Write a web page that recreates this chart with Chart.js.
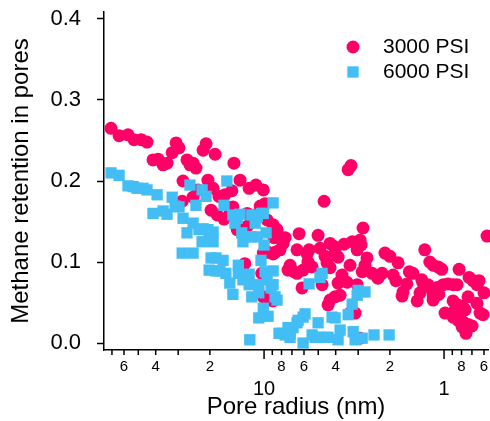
<!DOCTYPE html>
<html>
<head>
<meta charset="utf-8">
<script src="https://cdn.jsdelivr.net/npm/chart.js@4"></script>
<style>
  html, body { margin: 0; padding: 0; background: #fff; }
  #wrap { width: 490px; height: 421px; }
</style>
</head>
<body>
<div id="wrap"><canvas id="poreChart"></canvas></div>
<script>
// ==========================
// Data
// ==========================

// 3000 PSI (circles): pore radius in nm, methane retention
const radius3000 = [
    70.8, 63.9, 57.0, 52.8, 48.2, 44.7, 41.4, 38.8, 36.4, 34.6, 30.8, 29.7, 32.4,
    26.8, 25.8, 24.8, 23.9, 28.2, 28.5, 24.8, 23.3, 21.8, 21.0, 18.7, 14.7,
    20.5, 19.2, 17.8, 16.5, 15.1, 13.6, 12.1, 11.1, 10.1, 19.7, 18.2, 16.7, 15.5, 14.9,
    12.4, 11.7, 10.9, 10.5, 9.87, 9.62, 14.1, 12.9, 12.4, 8.91, 8.47, 8.80,
    10.1, 9.50, 8.91, 12.8, 10.3, 9.75, 10.1, 9.62, 8.91, 7.94, 7.84, 8.69, 8.15, 7.36,
    3.41, 3.29, 4.64, 6.39, 5.01, 2.82, 7.64, 6.56, 5.62, 5.77, 4.89, 4.30, 4.08, 4.03,
    3.59, 3.24, 2.93, 2.89, 3.04, 2.68, 2.13, 4.58, 3.88, 7.17, 6.81, 5.70, 6.07,
    4.47, 4.30, 3.33, 2.75, 2.85, 2.51, 2.33, 3.69, 3.88, 3.46, 4.76, 6.15, 3.04,
    4.03, 4.30, 4.41, 3.78, 3.33, 3.12, 2.93, 5.41, 6.56,
    0.577, 1.28, 2.00, 1.80, 1.20, 1.15, 1.08, 1.03, 0.825, 2.21, 1.92, 1.85,
    1.56, 1.49, 1.61, 1.33, 1.31, 1.23, 1.18, 1.08, 1.01, 0.95, 0.891, 0.847,
    1.09, 1.15, 0.726, 0.690, 0.639, 0.656, 0.600, 1.69, 1.71, 1.36, 1.41, 1.15, 1.07, 0.736,
    0.891, 0.858, 0.815, 0.784, 0.656, 0.987, 0.869, 0.815, 0.764,
    0.891, 0.836, 0.784, 0.736, 0.699, 0.631, 0.607, 0.794, 0.755
];
const retention3000 = [
    0.265, 0.256, 0.257, 0.251, 0.251, 0.248, 0.226, 0.227, 0.220, 0.222, 0.247, 0.241, 0.235,
    0.226, 0.220, 0.222, 0.216, 0.200, 0.175, 0.180, 0.189, 0.238, 0.246, 0.233, 0.222,
    0.201, 0.191, 0.181, 0.183, 0.188, 0.201, 0.191, 0.195, 0.189, 0.164, 0.158, 0.153, 0.160, 0.168,
    0.160, 0.154, 0.159, 0.169, 0.172, 0.152, 0.140, 0.137, 0.144, 0.146, 0.140, 0.130,
    0.111, 0.112, 0.110, 0.098, 0.086, 0.085, 0.057, 0.053, 0.052, 0.130, 0.123, 0.112, 0.115, 0.090,
    0.214, 0.219, 0.175, 0.135, 0.133, 0.142, 0.130, 0.115, 0.115, 0.110, 0.117, 0.123, 0.119, 0.112,
    0.122, 0.125, 0.127, 0.121, 0.115, 0.105, 0.111, 0.107, 0.106, 0.096, 0.088, 0.100, 0.090,
    0.099, 0.093, 0.096, 0.096, 0.088, 0.086, 0.080, 0.084, 0.074, 0.075, 0.072, 0.068, 0.072,
    0.057, 0.053, 0.047, 0.059, 0.037, 0.037, 0.006, 0.094, 0.086,
    0.132, 0.115, 0.107, 0.099, 0.100, 0.096, 0.094, 0.091, 0.091, 0.086, 0.084, 0.077,
    0.088, 0.086, 0.073, 0.078, 0.074, 0.072, 0.067, 0.069, 0.072, 0.073, 0.072, 0.072,
    0.063, 0.059, 0.081, 0.077, 0.077, 0.072, 0.062, 0.063, 0.058, 0.062, 0.052, 0.053, 0.060, 0.057,
    0.052, 0.048, 0.046, 0.044, 0.049, 0.037, 0.041, 0.037, 0.041,
    0.032, 0.028, 0.026, 0.023, 0.021, 0.037, 0.035, 0.020, 0.012
];

// 6000 PSI (squares)
const radius6000 = [
    70.8, 63.9, 57.0, 53.4, 50.8, 47.0, 44.7, 39.3, 41.4, 36.4, 34.6, 32.4, 31.2, 29.7,
    28.2, 26.8, 24.8, 28.5, 24.8, 25.8, 23.9, 22.1, 21.0, 23.0, 21.8, 20.5, 19.2,
    22.1, 20.2, 19.2, 19.7, 18.5, 16.9, 20.2, 18.5, 17.6, 16.3, 15.5, 14.9,
    13.9, 13.9, 13.1, 12.1, 16.1, 16.7, 14.9, 14.1, 13.6, 14.5, 13.3, 12.8, 11.8, 10.9, 13.1,
    11.7, 10.9, 10.3, 11.2, 10.0, 9.75, 8.91, 10.1, 10.4, 12.1, 11.7, 10.7, 10.7,
    9.87, 9.62, 9.14, 8.91, 8.91, 10.1, 9.50, 10.7, 12.0, 8.26, 8.69, 8.47,
    7.94, 7.64, 7.36, 7.17, 4.76, 4.89, 5.62, 3.00, 2.75, 3.04, 3.24, 3.41, 4.19, 4.03,
    5.92, 6.07, 6.47, 6.56, 6.90, 7.17, 5.01, 5.41, 5.21, 4.89, 4.58, 4.41, 6.07,
    3.78, 3.88, 3.20, 3.12, 2.85, 2.45, 2.02
];
const retention6000 = [
    0.210, 0.207, 0.194, 0.193, 0.191, 0.191, 0.189, 0.183, 0.160, 0.163, 0.159, 0.180, 0.169, 0.168,
    0.154, 0.136, 0.148, 0.111, 0.111, 0.195, 0.170, 0.189, 0.181, 0.140, 0.141, 0.140, 0.137,
    0.125, 0.128, 0.125, 0.105, 0.105, 0.102, 0.090, 0.089, 0.089, 0.086, 0.074, 0.060,
    0.096, 0.086, 0.078, 0.085, 0.200, 0.170, 0.158, 0.154, 0.159, 0.148, 0.136, 0.131, 0.131, 0.131, 0.125,
    0.158, 0.156, 0.160, 0.148, 0.121, 0.136, 0.173, 0.160, 0.102, 0.072, 0.057, 0.072, 0.062,
    0.088, 0.078, 0.068, 0.072, 0.089, 0.043, 0.033, 0.031, 0.004, 0.012, 0.057, 0.053,
    0.012, 0.010, 0.019, 0.007, 0.086, 0.081, 0.073, 0.065, 0.063, 0.059, 0.048, 0.035, 0.032, 0.031,
    0.036, 0.032, 0.028, 0.025, 0.019, 0.012, 0.025, 0.010, 0.007, 0.007, 0.007, 0.007, 0.000,
    0.016, 0.004, 0.014, 0.004, 0.006, 0.010, 0.010
];

// x axis ticks (log, reversed) and their labels; majors get a second line
const xTickValues = [0.6, 0.7, 0.8, 0.9, 1, 2, 3, 4, 5, 6, 7, 8, 9, 10, 20, 30, 40, 50, 60, 70];
const xTickLabels = ["6", "", "8", "", ["", "1"], "2", "", "4", "", "6", "", "8", "",
                     ["", "10"], "2", "", "4", "", "6", ""];

const seriesNames = ["3000 PSI", "6000 PSI"];

const RED = "rgb(255,0,102)";
const BLUE = "rgb(66,190,245)";
const FONT = "'Liberation Sans', Arial, Helvetica, sans-serif";


// ==========================
// Extra drawing: x tick marks of two lengths + legend
// ==========================

const extras = {
    id: "extras",
    afterDraw(chart) {
        const ctx = chart.ctx;
        const xs = chart.scales.x;
        const area = chart.chartArea;

        ctx.save();
        ctx.strokeStyle = "#000";
        ctx.lineWidth = 1.5;
        xs.ticks.forEach((t, i) => {
            const px = xs.getPixelForValue(t.value);
            const len = Array.isArray(xTickLabels[i]) ? 9 : 5;
            ctx.beginPath();
            ctx.moveTo(px, area.bottom);
            ctx.lineTo(px, area.bottom + len);
            ctx.stroke();
        });

        // legend, top right inside the plot
        const lx = area.right - 135;
        let ly = area.top + 35;
        chart.data.datasets.forEach((ds) => {
            ctx.fillStyle = ds.backgroundColor;
            Chart.helpers.drawPoint(ctx, {
                pointStyle: ds.pointStyle,
                radius: ds.pointRadius,
                rotation: 0,
                borderWidth: 0
            }, lx, ly);
            ctx.fillStyle = "#000";
            ctx.font = "21px " + FONT;
            ctx.textBaseline = "middle";
            ctx.textAlign = "left";
            ctx.fillText(ds.label, lx + 30, ly);
            ly += 25;
        });
        ctx.restore();
    }
};


// ==========================
// Chart
// ==========================

const ctx = document.getElementById("poreChart");

const poreChart = new Chart(ctx, {

    type: "scatter",

    data: {
        datasets: [{
            label: seriesNames[0],
            data: radius3000.map((r, i) => ({ x: r, y: retention3000[i] })),
            pointStyle: "circle",
            pointRadius: 6.5,
            pointHoverRadius: 6.5,
            backgroundColor: RED,
            borderWidth: 0,
            clip: false,
            order: 1
        }, {
            label: seriesNames[1],
            data: radius6000.map((r, i) => ({ x: r, y: retention6000[i] })),
            pointStyle: "rect",
            pointRadius: 8,
            pointHoverRadius: 8,
            backgroundColor: BLUE,
            borderWidth: 0,
            clip: false,
            order: 0
        }]
    },

    options: {
        responsive: true,
        maintainAspectRatio: false,
        animation: false,
        layout: {
            autoPadding: false,
            padding: { top: 12, right: 2, left: 0, bottom: 0 }
        },
        plugins: {
            legend: { display: false },
            tooltip: { enabled: false }
        },
        scales: {
            x: {
                type: "logarithmic",
                position: "bottom",
                reverse: true,
                min: 0.57,
                max: 77.5,
                afterBuildTicks: (axis) => {
                    axis.ticks = xTickValues.map((v, i) => ({
                        value: v,
                        major: Array.isArray(xTickLabels[i])
                    }));
                },
                afterFit: (axis) => {
                    axis.height = 71;
                    axis.paddingLeft = 0;
                    axis.paddingRight = 0;
                },
                grid: { display: false, drawTicks: false },
                border: { display: true, color: "#000", width: 1.5 },
                ticks: {
                    autoSkip: false,
                    maxRotation: 0,
                    padding: 9,
                    color: "#000",
                    callback: (value, index) => xTickLabels[index],
                    font: (c) => Array.isArray(xTickLabels[c.index])
                        ? { family: FONT, size: 20, lineHeight: 1 }
                        : { family: FONT, size: 15, lineHeight: 1.1 }
                },
                title: {
                    display: true,
                    text: "Pore radius (nm)",
                    color: "#000",
                    font: { family: FONT, size: 24, lineHeight: 1.1 },
                    padding: { top: 0, bottom: 0 }
                }
            },
            y: {
                min: -0.0086,
                max: 0.4086,
                afterFit: (axis) => {
                    axis.width = 104;
                    axis.paddingTop = 0;
                    axis.paddingBottom = 0;
                },
                grid: {
                    drawOnChartArea: false,
                    drawTicks: true,
                    tickLength: 7,
                    tickColor: "#000",
                    tickWidth: 1.5
                },
                border: { display: true, color: "#000", width: 1.5 },
                ticks: {
                    stepSize: 0.1,
                    includeBounds: false,
                    padding: 16,
                    color: "#000",
                    font: { family: FONT, size: 22 },
                    callback: (v) => v.toFixed(1)
                },
                title: {
                    display: true,
                    text: "Methane retention in pores",
                    color: "#000",
                    font: { family: FONT, size: 24 },
                    padding: { top: 7, bottom: 0 }
                }
            }
        }
    },

    plugins: [extras]
});
</script>
</body>
</html>
